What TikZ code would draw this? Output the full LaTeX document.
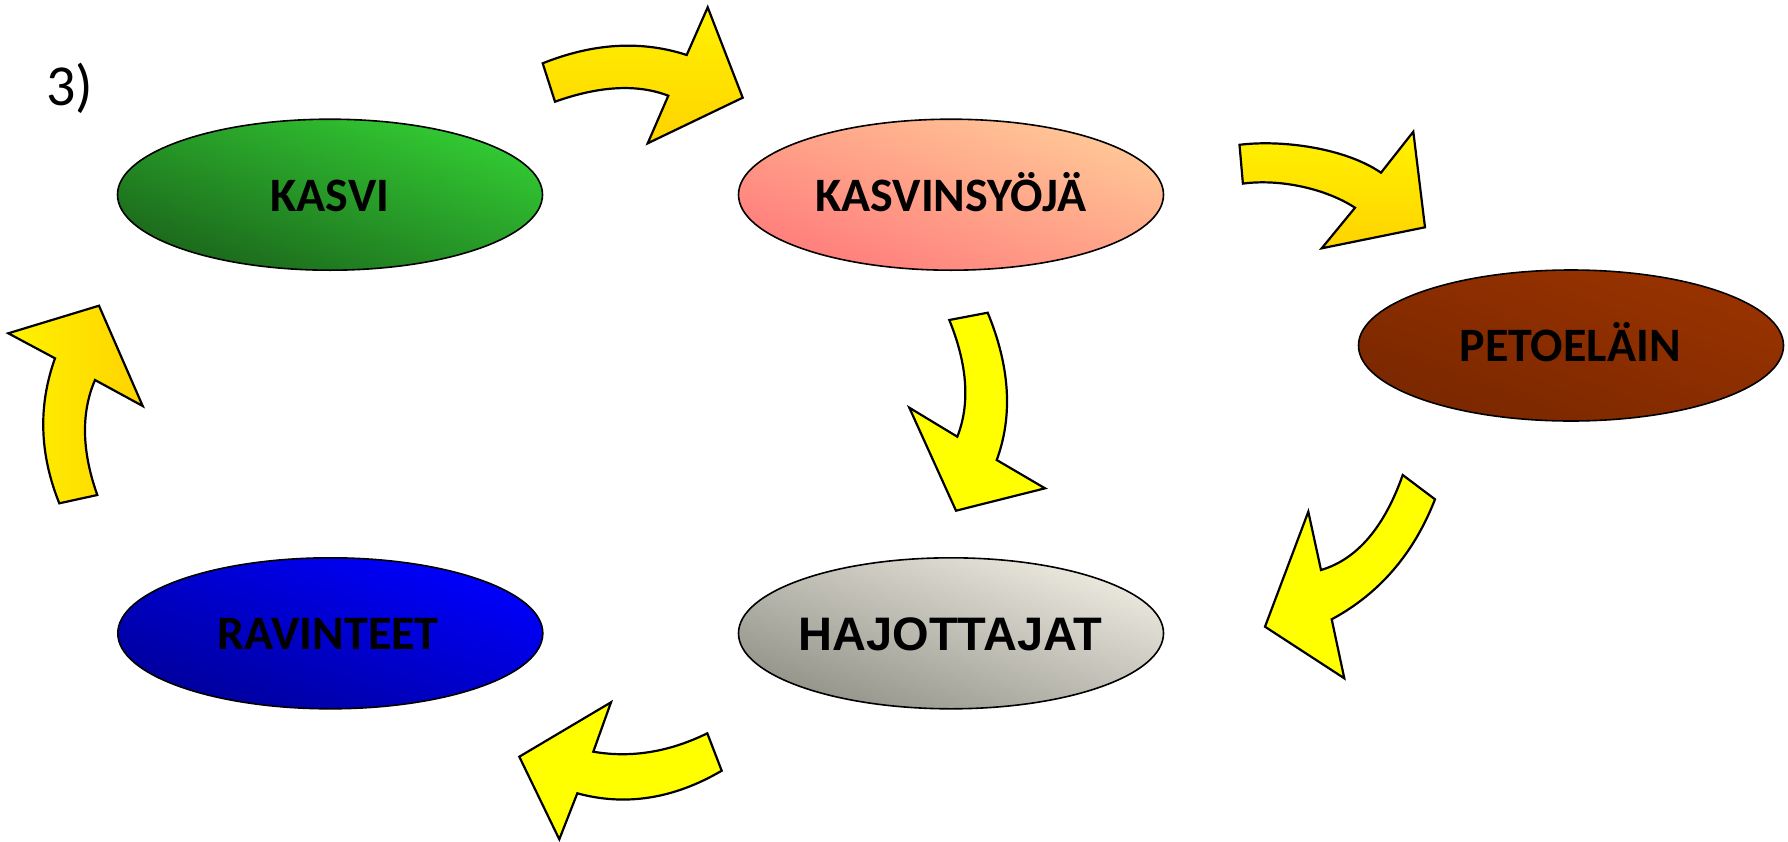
\documentclass[tikz,border=0pt]{standalone}
\usepackage{fontspec}
\setmainfont{Carlito}
\newfontfamily\calfont{Carlito}
\newfontfamily\arifont{Liberation Sans}
\usetikzlibrary{shapes.geometric}
\definecolor{grLight}{HTML}{33CC33}
\definecolor{grDark}{HTML}{1B661B}
\definecolor{pkLight}{HTML}{FFC896}
\definecolor{pkDark}{HTML}{FF7C7C}
\definecolor{brLight}{HTML}{993300}
\definecolor{brDark}{HTML}{7A2700}
\definecolor{blLight}{HTML}{0000FF}
\definecolor{blDark}{HTML}{00009A}
\definecolor{gyLight}{HTML}{EDEAE0}
\definecolor{gyDark}{HTML}{929288}
\definecolor{arLight}{HTML}{FFF200}
\definecolor{arGold}{HTML}{FFD300}
\definecolor{arFlat}{HTML}{FFFF00}
\tikzset{
  oval/.style={ellipse, draw=black, line width=1.6pt, minimum width=425pt, minimum height=151pt, inner sep=0pt},
  ovalshade/.style 2 args={top color=#1, bottom color=#2, shading angle=-20},
  lbl/.style={anchor=base, text=black, font=\calfont\bfseries\fontsize{48}{52}\selectfont},
  blockarrow/.style={draw=black, line width=2.2pt, line join=miter},
  flatarrow/.style={blockarrow, fill=arFlat},
  vgradarrow/.style={blockarrow, top color=arLight, bottom color=arGold},
  hgradarrow/.style={blockarrow, left color=arLight, right color=arGold}
}
\begin{document}
\begin{tikzpicture}[x=1pt, y=-1pt]
\useasboundingbox (0,0) rectangle (1788,841);
% label 3)
\node[anchor=base west, inner sep=0pt, font=\calfont\fontsize{58}{62}\selectfont] (num) at (46,105) {3)};
% ellipses
\node[oval, ovalshade={grLight}{grDark}] (kasvi) at (330,194.7) {};
\node[oval, ovalshade={pkLight}{pkDark}] (kasvinsyoja) at (951,194.7) {};
\node[oval, ovalshade={brLight}{brDark}] (peto) at (1571,345.5) {};
\node[oval, ovalshade={blLight}{blDark}] (ravinteet) at (330.3,633.3) {};
\node[oval, ovalshade={gyLight}{gyDark}] (hajottajat) at (951,633.3) {};
% labels
\node[lbl] (kasvitxt) at (330,211) {KASVI};
\node[lbl] (kasvinsyojatxt) at (950.8,211) {KASVINSYÖJÄ};
\node[lbl] (petotxt) at (1570,361.7) {PETOELÄIN};
\node[lbl] (ravinteettxt) at (328.3,649) {RAVINTEET};
\node[lbl, font=\arifont\bfseries\fontsize{47}{52}\selectfont] (hajottajattxt) at (950.5,650) {HAJOTTAJAT};
% arrow 1: kasvi -> kasvinsyoja
\draw[vgradarrow] (542.7,63.3) .. controls (593.4,43.0) and (641.4,40.2) .. (686.7,55) -- (707.7,7.3) -- (742.7,97.7) -- (647.7,143.3) -- (668.3,95.7) .. controls (637.3,83.8) and (599.5,85.8) .. (555,101.7) -- cycle;
% arrow 2: kasvinsyoja -> peto
\draw[vgradarrow] (1239.5,144.8) .. controls (1282,139.5) and (1345,148) .. (1381,172.7) -- (1413.3,131.7) -- (1425,227.3) -- (1321.7,248.3) -- (1355,207.7) .. controls (1325.6,188.6) and (1280,178.6) .. (1242.9,183.6) -- cycle;
% arrow 3: kasvinsyoja -> hajottajat
\draw[flatarrow] (949.3,320) -- (987.7,312.7) .. controls (1010.0,366.7) and (1013.0,415.8) .. (996.7,460) -- (1045,488.3) -- (956,510.7) -- (909.3,407.7) -- (957.3,436.7) .. controls (970.2,404.0) and (967.6,365.1) .. (949.3,320) -- cycle;
% arrow 4: peto -> hajottajat
\draw[flatarrow] (1402.7,475) -- (1435,499.3) .. controls (1413.8,553.6) and (1379.4,593.6) .. (1331.7,619.3) -- (1344.3,678.3) -- (1265,626.7) -- (1308.3,511.7) -- (1321,570) .. controls (1356.8,559.4) and (1384.1,527.7) .. (1402.7,475) -- cycle;
% arrow 5: hajottajat -> ravinteet
\draw[flatarrow] (707.3,733.3) -- (721.7,770.7) .. controls (673.6,798.9) and (625.4,806.4) .. (577.3,793.3) -- (559.3,839.3) -- (519.3,756.7) -- (611,702.3) -- (593.3,751.7) .. controls (630.9,758.2) and (668.9,752.1) .. (707.3,733.3) -- cycle;
% arrow 6: ravinteet -> kasvi
\draw[hgradarrow] (59.3,503.3) -- (97.3,495) .. controls (81.7,451.1) and (80.9,412.7) .. (95,380) -- (142.7,406) -- (99,305.7) -- (8.3,333.3) -- (55,358.3) .. controls (38.0,405.6) and (39.4,453.9) .. (59.3,503.3) -- cycle;
\end{tikzpicture}
\end{document}
